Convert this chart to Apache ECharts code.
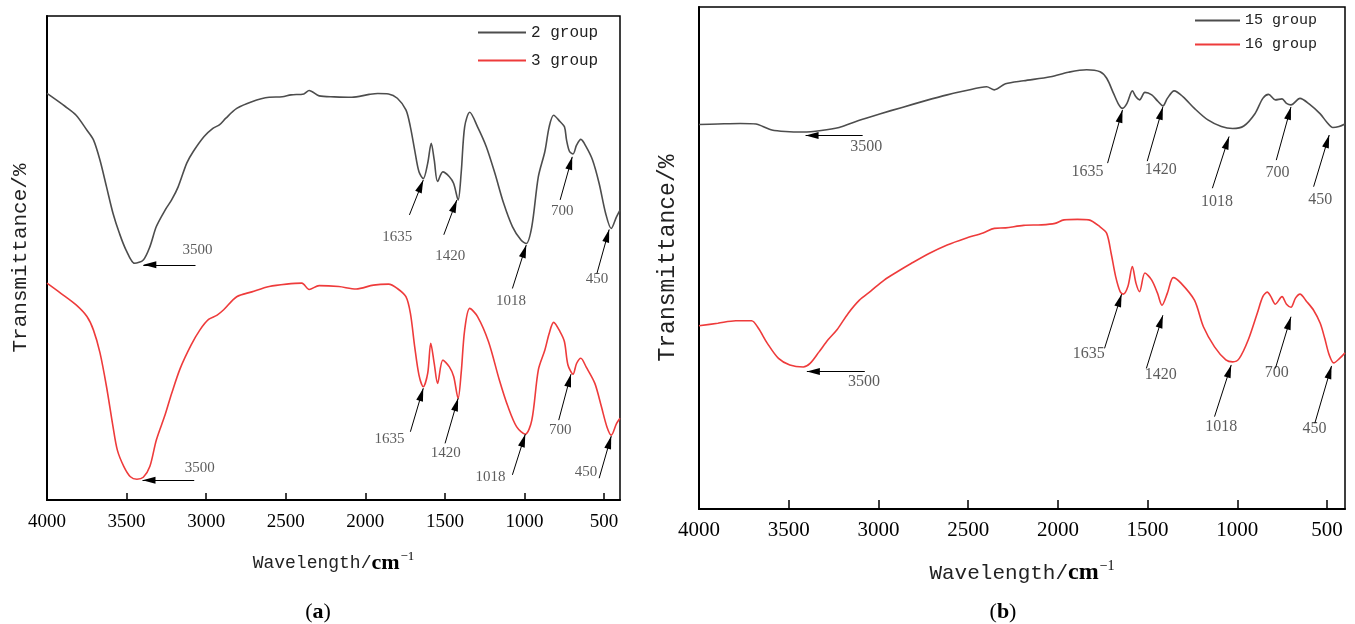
<!DOCTYPE html>
<html>
<head>
<meta charset="utf-8">
<script src="https://cdn.jsdelivr.net/npm/echarts@6/dist/echarts.min.js"></script>
<style>
  html, body { margin: 0; padding: 0; background: #fff; }
  #chart { width: 1355px; height: 624px; }
</style>
</head>
<body>
<div id="chart"></div>
<script>
// FTIR spectra: wavenumber (cm-1) and transmittance (arbitrary %, 0-100 scale)
const tickValues = [4000, 3500, 3000, 2500, 2000, 1500, 1000, 500];
const peakNames = ['3500', '1635', '1420', '1018', '700', '450'];

// panel (a)
const wn2 = [4000,3885,3817,3749,3708,3667,3626,3585,3545,3504,3449,3395,3354,3313,3258,3217,3176,3122,3081,3013,2958,2917,2876,2808,2713,2604,2522,2467,2386,2353,2290,2195,2085,1976,1922,1854,1799,1745,1717,1690,1663,1636,1608,1586,1567,1546,1513,1472,1445,1417,1398,1376,1344,1295,1240,1186,1131,1076,1022,989,954,913,872,845,817,777,749,736,717,695,673,646,613,572,531,490,455,422,400];
const t2 = [84.0,81.3,79.5,76.4,74.4,70.2,64.7,59.2,55.1,51.7,48.9,49.6,52.3,56.5,59.9,62.0,64.7,69.6,72.0,75.1,76.8,77.5,78.9,80.9,82.3,83.2,83.3,83.7,83.9,84.6,83.5,83.3,83.2,83.8,84.0,83.9,83.0,80.6,77.1,72.3,67.8,66.4,69.6,73.7,70.2,65.8,67.8,66.8,65.4,62.0,67.5,77.1,80.1,77.1,73.0,67.5,61.3,56.5,53.7,53.0,56.5,66.8,72.0,77.1,79.5,78.2,77.1,74.4,72.0,71.5,73.3,74.5,73.0,70.2,65.4,59.2,56.1,58.5,59.9];

const wn3 = [4000,3913,3817,3749,3708,3667,3626,3585,3558,3517,3476,3435,3395,3354,3313,3258,3217,3163,3095,3040,2985,2931,2890,2808,2713,2604,2495,2399,2353,2290,2167,2058,1949,1854,1799,1745,1717,1690,1663,1636,1608,1589,1567,1546,1513,1472,1445,1417,1398,1376,1344,1295,1226,1158,1104,1049,995,954,913,872,845,817,777,749,727,695,673,646,613,558,517,482,455,422,400];
const t3 = [44.8,42.7,40.3,37.9,35.1,30.4,23.4,15.1,10.3,6.9,4.8,4.3,4.7,6.9,12.4,17.6,22.0,27.2,32.0,35.1,37.3,38.2,39.3,42.0,43.0,44.1,44.6,44.8,43.5,44.3,44.1,43.6,44.4,44.6,43.7,42.0,38.6,31.7,25.8,23.4,26.2,32.4,28.2,24.1,28.9,27.5,25.5,21.0,26.2,35.1,39.6,37.9,32.7,24.8,19.3,15.1,13.6,16.5,26.9,31.0,34.4,36.7,34.8,32.7,27.9,26.0,28.2,29.3,27.5,24.1,19.3,15.1,13.4,15.8,16.9];

// panel (b)
const wn15 = [4000,3895,3770,3682,3644,3594,3519,3419,3319,3219,3156,3093,2993,2868,2742,2617,2517,2397,2354,2292,2191,2041,1941,1840,1765,1728,1690,1660,1640,1615,1585,1565,1545,1515,1477,1445,1415,1390,1352,1302,1239,1164,1089,1026,964,901,858,826,788,751,726,701,651,600,538,500,468,433,400];
const t15 = [76.6,76.7,76.8,76.7,76.2,75.5,75.2,75.1,75.4,76.0,76.8,77.6,78.7,80.0,81.3,82.5,83.3,84.1,83.5,84.7,85.3,86.1,87.0,87.5,87.1,85.8,82.8,80.5,79.8,80.8,83.3,82.1,81.5,83.0,82.5,81.3,80.3,81.8,83.3,82.1,79.8,77.5,76.2,75.8,76.3,78.8,81.8,82.6,81.5,81.7,80.8,80.5,81.8,80.7,78.7,77.0,76.0,76.2,76.7];

const wn16 = [4000,3895,3795,3707,3669,3619,3557,3494,3419,3381,3331,3281,3231,3168,3106,3043,2968,2893,2818,2718,2617,2517,2417,2354,2292,2191,2091,2016,1966,1891,1828,1765,1728,1703,1678,1653,1635,1610,1585,1565,1545,1515,1477,1445,1420,1390,1357,1314,1239,1189,1127,1064,1026,989,939,889,858,833,813,788,751,726,701,676,651,613,575,538,513,488,463,430,400];
const t16 = [36.5,37.0,37.5,37.5,36.0,33.0,30.0,28.7,28.3,29.0,31.3,33.7,35.7,39.0,41.6,43.4,45.6,47.3,48.9,50.9,52.6,53.9,55.0,55.9,56.0,56.5,56.6,56.9,57.6,57.7,57.6,56.2,54.9,50.9,46.3,43.3,42.8,44.3,48.3,45.0,43.3,47.0,45.6,43.0,40.6,43.0,46.1,45.0,41.6,36.3,32.3,29.7,29.3,30.0,33.7,39.0,42.3,43.2,42.3,40.8,42.3,40.8,40.2,42.0,42.8,41.3,39.6,37.0,34.0,30.7,29.1,30.0,31.1];

// peak callouts: arrow [fromX, fromY, tipX, tipY] and label anchor [x, y], in axis units
const arrows2 = [[3067,48.6,3395,48.6],[1723,58.9,1636,66.1],[1507,54.8,1425,62.0],[1076,43.7,989,52.7],[776,62.0,700,70.9],[545,46.8,468,55.9]];
const labels2 = [[3054,51.7],[1799,54.3],[1466,50.3],[1085,41.0],[763,59.7],[545,45.6]];
const arrows3 = [[3075,4.1,3400,4.1],[1717,14.1,1636,23.1],[1499,11.7,1417,21.0],[1076,5.2,995,13.6],[785,16.5,708,26.0],[531,4.5,455,13.2]];
const labels3 = [[3040,6.7],[1848,12.5],[1494,9.6],[1213,4.7],[776,14.5],[613,5.8]];
const arrows15 = [[3088,74.4,3406,74.4],[1723,68.9,1640,79.5],[1502,69.3,1415,80.1],[1139,63.9,1046,74.2],[783,69.5,701,80.1],[575,64.2,488,74.5]];
const labels15 = [[3068,72.2],[1835,67.2],[1427,67.5],[1114,61.2],[776,67.0],[538,61.6]];
const arrows16 = [[3076,27.4,3399,27.4],[1740,32.0,1645,42.8],[1507,28.0,1415,38.6],[1127,18.4,1034,28.7],[788,28.0,701,38.3],[568,17.1,475,28.5]];
const labels16 = [[3081,25.4],[1828,31.0],[1427,26.7],[1089,16.4],[781,27.2],[570,15.9]];

const GRAY = '#4d4d4d';
const RED = '#ee3b3b';
const ARROW_HEAD = 'path://M5,0 L10,16 L0,16 Z';

function spectrum(name, wn, t, idx, color) {
  return {
    type: 'line', name: name, xAxisIndex: idx, yAxisIndex: idx,
    data: wn.map((w, i) => [w, t[i]]),
    symbol: 'none', showSymbol: false, smooth: 0.3,
    lineStyle: { color: color, width: 1.6 }, itemStyle: { color: color },
    animation: false, z: 3
  };
}

function callouts(idx, arrows, anchors, fontSize) {
  return [
    {
      type: 'line', xAxisIndex: idx, yAxisIndex: idx, data: [], animation: false,
      markLine: {
        silent: true, animation: false,
        symbol: ['none', ARROW_HEAD],
        label: { show: false },
        lineStyle: { color: '#000', width: 1, type: 'solid' },
        emphasis: { disabled: true },
        data: arrows.map(a => [
          { coord: [a[0], a[1]] },
          { coord: [a[2], a[3]], symbolSize: [7, 13], symbolOffset: [0, '50%'] }
        ])
      }
    },
    {
      type: 'scatter', xAxisIndex: idx, yAxisIndex: idx, animation: false, silent: true,
      symbolSize: 1, itemStyle: { color: 'rgba(0,0,0,0)' },
      data: anchors.map((p, i) => [p[0], p[1], peakNames[i]]),
      label: {
        show: true, position: 'inside', formatter: p => p.value[2],
        fontFamily: 'Liberation Serif', fontSize: fontSize, color: '#333'
      }
    }
  ];
}

function xAxisFor(idx, tickFont, tickLen, margin, gap, sizes) {
  return {
    gridIndex: idx, type: 'value', min: 400, max: 4000, inverse: true,
    axisLine: { show: true, onZero: false, lineStyle: { color: '#000', width: 2 } },
    axisTick: { show: true, inside: true, length: tickLen, customValues: tickValues, lineStyle: { color: '#000', width: 1.5 } },
    axisLabel: { customValues: tickValues, formatter: v => String(v),
      fontFamily: 'Liberation Serif', fontSize: tickFont, color: '#000', margin: margin },
    splitLine: { show: false },
    name: '{a|Wavelength/}{b|cm}{s|−1}',
    nameLocation: 'middle', nameGap: gap,
    nameTextStyle: {
      color: '#222',
      rich: {
        a: { fontFamily: 'Liberation Mono', fontSize: sizes[0], color: '#222' },
        b: { fontFamily: 'Liberation Serif', fontWeight: 'bold', fontSize: sizes[1], color: '#000' },
        s: { fontFamily: 'Liberation Serif', fontSize: sizes[2], color: '#000', padding: [0, 0, 14, 1] }
      }
    }
  };
}

function yAxisFor(idx, gap, size) {
  return {
    gridIndex: idx, type: 'value', min: 0, max: 100,
    axisLine: { show: true, lineStyle: { color: '#000', width: 2 } },
    axisTick: { show: false }, axisLabel: { show: false }, splitLine: { show: false },
    name: 'Transmittance/%', nameLocation: 'middle', nameGap: gap, nameRotate: 90,
    nameTextStyle: { fontFamily: 'Liberation Mono', fontSize: size, color: '#222' }
  };
}

const chart = echarts.init(document.getElementById('chart'), null, { renderer: 'canvas' });
chart.setOption({
  backgroundColor: '#fff',
  animation: false,
  title: [
    { text: '({b|a})', left: 313, top: 596, textAlign: 'center',
      textStyle: { fontFamily: 'Liberation Serif', fontSize: 22, fontWeight: 'normal', color: '#000',
        rich: { b: { fontFamily: 'Liberation Serif', fontSize: 22, fontWeight: 'bold', color: '#000' } } } },
    { text: '({b|b})', left: 998, top: 596, textAlign: 'center',
      textStyle: { fontFamily: 'Liberation Serif', fontSize: 22, fontWeight: 'normal', color: '#000',
        rich: { b: { fontFamily: 'Liberation Serif', fontSize: 22, fontWeight: 'bold', color: '#000' } } } }
  ],
  legend: [
    { data: ['2 group', '3 group'], orient: 'vertical', left: 473, top: 18,
      icon: 'rect', itemWidth: 48, itemHeight: 2, itemGap: 9,
      textStyle: { fontFamily: 'Liberation Mono', fontSize: 16, color: '#222', lineHeight: 19 } },
    { data: ['15 group', '16 group'], orient: 'vertical', left: 1190, top: 6,
      icon: 'rect', itemWidth: 45, itemHeight: 2, itemGap: 5,
      textStyle: { fontFamily: 'Liberation Mono', fontSize: 15, color: '#222', lineHeight: 19 } }
  ],
  grid: [
    { left: 47, right: 735, top: 16, bottom: 124, show: true, borderColor: '#000', borderWidth: 1.5, backgroundColor: 'transparent' },
    { left: 699, right: 10, top: 7, bottom: 115, show: true, borderColor: '#000', borderWidth: 1.5, backgroundColor: 'transparent' }
  ],
  xAxis: [
    xAxisFor(0, 19, 7, 13, 50, [18, 22, 13]),
    xAxisFor(1, 21, 9, 11, 50, [21, 24, 14])
  ],
  yAxis: [
    yAxisFor(0, 16, 21),
    yAxisFor(1, 20, 23)
  ],
  series: [
    spectrum('2 group', wn2, t2, 0, GRAY),
    spectrum('3 group', wn3, t3, 0, RED),
    spectrum('15 group', wn15, t15, 1, GRAY),
    spectrum('16 group', wn16, t16, 1, RED)
  ]
    .concat(callouts(0, arrows2, labels2, 15))
    .concat(callouts(0, arrows3, labels3, 15))
    .concat(callouts(1, arrows15, labels15, 16))
    .concat(callouts(1, arrows16, labels16, 16))
});
</script>
</body>
</html>
